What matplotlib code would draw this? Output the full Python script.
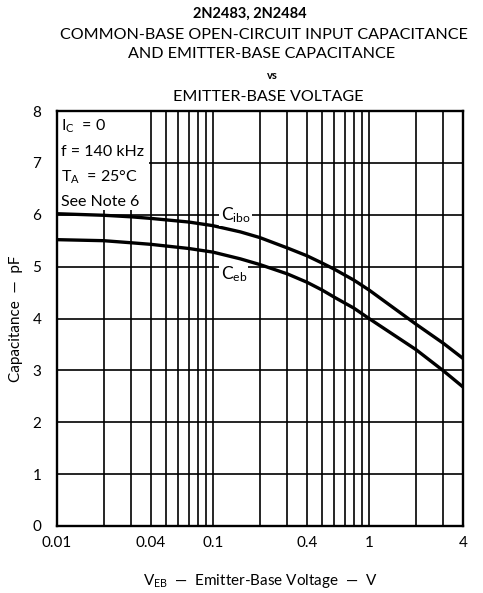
import matplotlib
matplotlib.use("Agg")
import matplotlib.pyplot as plt
from matplotlib.patches import Rectangle
from matplotlib.ticker import LogLocator, NullFormatter, FixedLocator

plt.rcParams['font.family'] = ['Lato', 'DejaVu Sans']
plt.rcParams['mathtext.fontset'] = 'custom'
plt.rcParams['mathtext.rm'] = 'Lato'
plt.rcParams['mathtext.it'] = 'Lato:italic'

# values
v_eb = [0.01, 0.02, 0.03, 0.04, 0.07, 0.1, 0.15, 0.2, 0.3, 0.4, 0.5, 0.6, 0.8, 1, 2, 3, 4]
c_ibo = [6.02, 5.99, 5.96, 5.93, 5.86, 5.79, 5.67, 5.56, 5.36, 5.21, 5.07, 4.95, 4.74, 4.55, 3.89, 3.52, 3.23]
c_eb = [5.52, 5.50, 5.46, 5.43, 5.35, 5.28, 5.15, 5.04, 4.86, 4.70, 4.55, 4.41, 4.20, 4.00, 3.40, 2.99, 2.68]

x_ticks = [0.01, 0.04, 0.1, 0.4, 1, 4]
x_ticklabels = ['0.01', '0.04', '0.1', '0.4', '1', '4']
y_ticks = [0, 1, 2, 3, 4, 5, 6, 7, 8]

title_lines = ['COMMON-BASE OPEN-CIRCUIT INPUT CAPACITANCE',
               'AND EMITTER-BASE CAPACITANCE']
conditions = [r'I$_{\mathrm{C}}$  = 0', 'f = 140 kHz', r'T$_{\mathrm{A}}$  = 25°C', 'See Note 6']

fig = plt.figure(figsize=(4.83, 5.93), dpi=100)
ax = fig.add_axes([0.1174, 0.1130, 0.8412, 0.6998])

ax.set_xscale('log')
ax.set_xlim(0.01, 4)
ax.set_ylim(0, 8)

ax.xaxis.set_major_locator(FixedLocator(x_ticks))
ax.set_xticklabels(x_ticklabels)
ax.xaxis.set_minor_locator(LogLocator(base=10, subs=range(2, 10)))
ax.xaxis.set_minor_formatter(NullFormatter())
ax.set_yticks(y_ticks)
ax.tick_params(which='both', length=0, labelsize=11, colors='black')
ax.tick_params(axis='x', pad=7)
ax.tick_params(axis='y', pad=11)

ax.set_axisbelow(True)
ax.grid(which='both', color='black', linewidth=1.2)
for s in ax.spines.values():
    s.set_linewidth(1.7)

# white box behind the test conditions
ax.add_patch(Rectangle((0.01, 6.1), 0.0292, 1.9, facecolor='white',
                       edgecolor='none', zorder=1.5))
for i, t in enumerate(conditions):
    ax.text(0.0107, 7.7 - i * 0.485, t, fontsize=11.5, va='center', ha='left', zorder=3)

ax.plot(v_eb, c_ibo, color='black', linewidth=2.4, zorder=2)
ax.plot(v_eb, c_eb, color='black', linewidth=2.4, zorder=2)

ax.text(0.112, 6.0, r'C$_{\mathrm{ibo}}$', fontsize=12.5, va='center', ha='left', zorder=3,
        bbox=dict(facecolor='white', edgecolor='none', pad=1))
ax.text(0.112, 4.86, r'C$_{\mathrm{eb}}$', fontsize=12.5, va='center', ha='left', zorder=3,
        bbox=dict(facecolor='white', edgecolor='none', pad=1))

ax.set_xlabel(r'V$_{\mathrm{EB}}$  —  Emitter-Base Voltage  —  V', fontsize=11, labelpad=16)
ax.set_ylabel('Capacitance  —  pF', fontsize=11, labelpad=7)

fig.text(0.517, 0.976, '2N2483, 2N2484', fontsize=10.5, fontweight='bold', ha='center', va='center')
fig.text(0.547, 0.941, title_lines[0], fontsize=11.6, ha='center', va='center')
fig.text(0.542, 0.909, title_lines[1], fontsize=11.6, ha='center', va='center')
fig.text(0.563, 0.872, 'vs', fontsize=8, fontweight='bold', ha='center', va='center')
fig.text(0.556, 0.836, 'EMITTER-BASE VOLTAGE', fontsize=11.6, ha='center', va='center')

fig.savefig('out.png', dpi=100)
